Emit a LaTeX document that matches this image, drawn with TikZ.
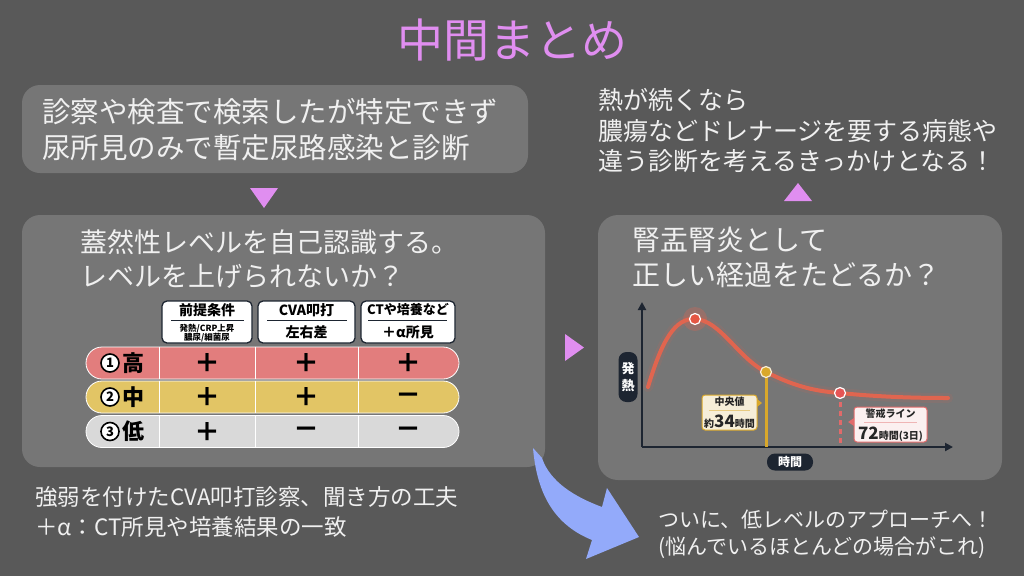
\documentclass[tikz,border=0pt]{standalone}
\usepackage{fontspec}
\setmainfont{Noto Sans CJK JP}
\usetikzlibrary{arrows.meta, positioning}

\definecolor{bg}{HTML}{595959}
\definecolor{panel}{HTML}{767676}
\definecolor{lilac}{HTML}{E08EF0}
\definecolor{lite}{HTML}{F0F0F0}
\definecolor{rowhi}{HTML}{E27D7D}
\definecolor{rowmid}{HTML}{E2C565}
\definecolor{rowlo}{HTML}{D9D9D9}
\definecolor{navy}{HTML}{1D2531}
\definecolor{fever}{HTML}{E0654F}
\definecolor{gold}{HTML}{D9A82B}
\definecolor{cream}{HTML}{F6EED8}
\definecolor{alarm}{HTML}{E06A6A}
\definecolor{blush}{HTML}{FBF0F0}
\definecolor{sky}{HTML}{93AAFA}

\newcommand{\fsz}[2]{\fontsize{#1}{#2}\selectfont}

\begin{document}
\begin{tikzpicture}[x=1pt, y=-1pt,
  panelbox/.style={fill=panel, rounded corners=18pt},
  txt/.style={text=lite, anchor=west, align=left, inner sep=0pt},
  hdr/.style={draw=navy, line width=1.3pt, fill=white, rounded corners=5pt, minimum height=42pt},
  hdrtxt/.style={inner sep=0pt, text=black, font=\fsz{14}{14}\bfseries},
  rowbar/.style={draw=white, line width=0.8pt, rounded corners=16pt, minimum width=373pt, minimum height=32pt},
  divider/.style={white, line width=1pt},
  pm/.style={inner sep=0pt, text=black, font=\fsz{26}{26}\bfseries},
  lvl/.style={circle, draw=black, line width=1.6pt, fill=white, inner sep=0pt, minimum size=18pt, font=\fsz{13}{13}\bfseries},
  lvltxt/.style={inner sep=0pt, text=black, font=\fsz{22}{22}\bfseries},
  axis/.style={navy, line width=2.5pt, -{Triangle[length=8pt, width=8pt]}},
  pill/.style={fill=navy, rounded corners=8pt, inner sep=0pt, text=white, font=\fsz{12}{14}\bfseries},
  dot/.style={circle, draw=white, line width=1.2pt, inner sep=0pt, minimum size=11pt},
  lbl/.style={rounded corners=3pt, line width=1pt, inner sep=0pt, minimum height=35pt},
  lbltxt/.style={inner sep=0pt, text=black!85, font=\fsz{10}{10}\bfseries}]

\useasboundingbox[fill=bg] (0,0) rectangle (1024,576);

% title
\node[font=\fsz{46}{46}, text=lilac] (title) at (512,40) {中間まとめ};

% first finding
\fill[panelbox] (22,85) rectangle (528,173);
\node[txt, font=\fsz{28.5}{36}] (first) at (42,130) {診察や検査で検索したが特定できず\\尿所見のみで暫定尿路感染と診断};
\fill[lilac] (250,188) -- (278,188) -- (264,208) -- cycle;

% likelihood panel
\fill[panelbox] (22,215) rectangle (545,467);
\node[txt, font=\fsz{27}{34}] (selfcheck) at (80,259) {蓋然性レベルを自己認識する。\\レベルを上げられないか？};

\node[hdr, minimum width=90pt] (h1) at (207,322) {};
\node[hdr, minimum width=97pt] (h2) at (306.5,322) {};
\node[hdr, minimum width=94pt] (h3) at (408,322) {};
\node[hdrtxt] (h1t) at (207,310) {前提条件};
\node[hdrtxt, font=\fsz{8.5}{9}\bfseries, align=center] (h1s) at (207,333) {発熱/CRP上昇\\膿尿/細菌尿};
\node[hdrtxt] (h2t) at (306.5,310) {CVA叩打};
\node[hdrtxt] (h2s) at (306.5,332) {左右差};
\node[hdrtxt, font=\fsz{13}{13}\bfseries] (h3t) at (408,310) {CTや培養など};
\node[hdrtxt] (h3s) at (408,332) {＋α所見};
\draw[navy, line width=0.8pt] (171,320) -- (244,320);
\draw[navy, line width=0.8pt] (267,320) -- (347,320);
\draw[navy, line width=0.8pt] (368,320) -- (447,320);

\node[rowbar, fill=rowhi] (r1) at (272.5,363) {};
\node[rowbar, fill=rowmid] (r2) at (272.5,397) {};
\node[rowbar, fill=rowlo] (r3) at (272.5,431.5) {};
\foreach \r in {r1,r2,r3}
  \foreach \h in {h1,h2,h3}
    \draw[divider] ([xshift=-1.5pt]\h.west |- \r.north) -- ([xshift=-1.5pt]\h.west |- \r.south);

\node[lvl] (n1) at (110,363) {1};
\node[lvltxt] (k1) [right=2pt of n1] {高};
\node[lvl] (n2) at (110,397) {2};
\node[lvltxt] (k2) [right=2pt of n2] {中};
\node[lvl] (n3) at (110,431.5) {3};
\node[lvltxt] (k3) [right=2pt of n3] {低};

\node[pm] (p11) at (h1 |- r1) {＋};
\node[pm] (p12) at (h2 |- r1) {＋};
\node[pm] (p13) at (h3 |- r1) {＋};
\node[pm] (p21) at (h1 |- r2) {＋};
\node[pm] (p22) at (h2 |- r2) {＋};
\node[pm, yshift=-1.5pt] (p23) at (h3 |- r2) {－};
\node[pm] (p31) at (h1 |- r3) {＋};
\node[pm, yshift=-1.5pt] (p32) at (h2 |- r3) {－};
\node[pm, yshift=-1.5pt] (p33) at (h3 |- r3) {－};

% pointer to the course panel
\fill[lilac] (565,334) -- (584,347.5) -- (565,361) -- cycle;

% course panel
\fill[panelbox, rounded corners=20pt] (598,215) rectangle (1002,480);
\node[txt, font=\fsz{28}{35}] (course) at (632,257) {腎盂腎炎として\\正しい経過をたどるか？};

\coordinate (o) at (642,447);
\coordinate (ytop) at (642,302);
\coordinate (xend) at (953,447);
\draw[axis] (o) -- (ytop);
\draw[axis] (o) -- (xend);
\node[pill, minimum width=19pt, minimum height=50pt, align=center, font=\fsz{13}{17}\bfseries] (fy) at (628,377) {発\\熱};
\node[pill, minimum width=46pt, minimum height=17pt] (fx) at (790,462) {時間};

\draw[fever, line width=10pt, opacity=0.12, line cap=round] (648,387) .. controls (662,340) and (675,318) .. (695,319) .. controls (720,320) and (738,358) .. (766,372) .. controls (792,385) and (812,391) .. (840,393) .. controls (880,397) and (915,398) .. (948,398);
\draw[fever, line width=4pt, line cap=round] (648,387) .. controls (662,340) and (675,318) .. (695,319) .. controls (720,320) and (738,358) .. (766,372) .. controls (792,385) and (812,391) .. (840,393) .. controls (880,397) and (915,398) .. (948,398);

\coordinate (med) at (766,372);
\coordinate (warn) at (840,393);
\draw[gold, line width=3pt] (med) -- (med |- o);
\draw[alarm, line width=3pt, dash pattern=on 5pt off 4pt] (warn) -- ([yshift=2pt]warn |- o);

\fill[fever, opacity=0.3] (695,319) circle (12);
\node[dot, fill=fever!85!red] (peak) at (695,319) {};
\node[dot, fill=gold, draw=cream] (medd) at (med) {};
\node[dot, fill=alarm!80!red] (warnd) at (warn) {};

\node[lbl, draw=gold, fill=cream, minimum width=55pt] (medbox) at (729.5,412.5) {};
\fill[gold] (757,399) -- (762,403) -- (757,407) -- cycle;
\node[lbltxt] (medt) at (729.5,402) {中央値};
\draw[gold!60, line width=0.6pt] (709,410) -- (750,410);
\node[lbltxt] (medv) at (729.5,422) {約{\fsz{17}{17}34}時間};

\node[lbl, draw=alarm, fill=blush, minimum width=73pt] (warnbox) at (890.5,424.5) {};
\fill[alarm] (854,418) -- (848,422) -- (854,426) -- cycle;
\node[lbltxt] (warnt) at (890.5,414) {警戒ライン};
\draw[alarm!50, line width=0.6pt] (864,422) -- (917,422);
\node[lbltxt] (warnv) at (890.5,434) {{\fsz{17}{17}72}時間(3日)};

% if fever persists
\fill[lilac] (784,201) -- (812,201) -- (798,183) -- cycle;
\node[txt, font=\fsz{25}{30.5}] (persist) at (598,131) {熱が続くなら\\膿瘍などドレナージを要する病態や\\違う診断を考えるきっかけとなる！};

% bottom notes
\node[txt, font=\fsz{22.5}{30}] (tips) at (35,512) {強弱を付けたCVA叩打診察、聞き方の工夫\\＋α：CT所見や培養結果の一致};

\fill[sky] (533,448) .. controls (537,495) and (555,525) .. (592,540) -- (586,559) -- (639,537) -- (607,488) -- (602,507) .. controls (575,497) and (550,482) .. (542,458) -- cycle;

\node[txt, font=\fsz{21}{27}] (finally) at (658,534) {ついに、低レベルのアプローチへ！\\(悩んでいるほとんどの場合がこれ)};

\end{tikzpicture}
\end{document}
